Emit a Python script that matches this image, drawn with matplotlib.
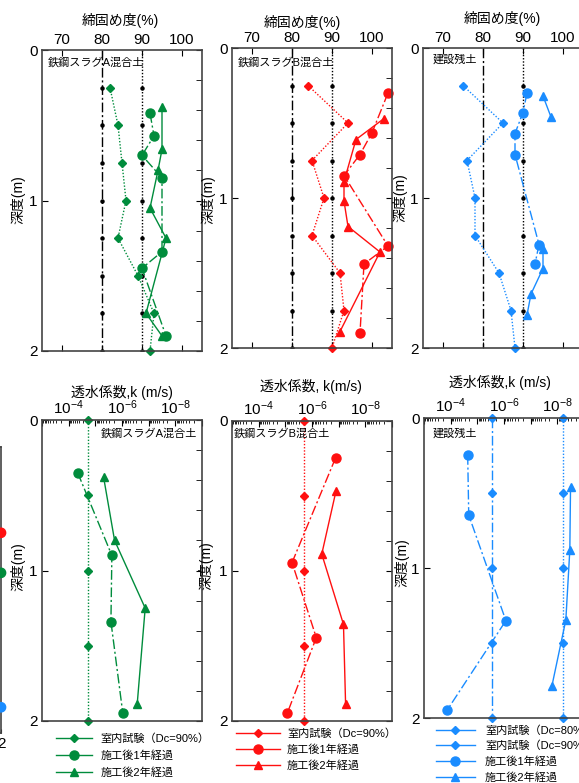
import numpy as np
import matplotlib
matplotlib.use('Agg')
import matplotlib.pyplot as plt
from matplotlib.lines import Line2D
from matplotlib.ticker import MultipleLocator, FixedLocator, LogLocator, FuncFormatter, NullFormatter

plt.rcParams['font.family'] = ['Liberation Sans', 'Noto Sans CJK JP', 'DejaVu Sans']
plt.rcParams['mathtext.fontset'] = 'custom'
plt.rcParams['mathtext.rm'] = 'Liberation Sans'
plt.rcParams['mathtext.it'] = 'Liberation Sans:italic'
plt.rcParams['axes.unicode_minus'] = False

W, H = 579, 783
GREEN = '#008c3c'
RED = '#ff1010'
BLUE = '#1a8cff'

# ---- 締固め度 (top row) ----
dc_ref = [80, 90]
ref_depth = [0.25, 0.5, 0.75, 1.0, 1.25, 1.5, 1.75, 2.0]

a_lab_dc = [82, 84, 85, 86, 84, 89, 93, 92]
a_y1_depth = [0.42, 0.57, 0.70, 0.85, 1.34, 1.45, 1.90]
a_y1_dc = [92, 93, 90, 95, 95, 90, 96]
a_y2_depth = [0.38, 0.66, 0.80, 1.05, 1.25, 1.75, 1.90]
a_y2_dc = [95, 95, 94, 92, 96, 91, 95]

b_lab_dc = [84, 94, 85, 88, 85, 92, 93, 90]
b_y1_depth = [0.30, 0.565, 0.71, 0.85, 1.32, 1.44, 1.90]
b_y1_dc = [104, 100, 97, 93, 104, 98, 97]
b_y2_depth = [0.47, 0.61, 0.89, 1.02, 1.19, 1.36, 1.89]
b_y2_dc = [103, 96, 93, 93, 94, 102, 92]

c_lab_dc = [75, 85, 76, 78, 78, 84, 87, 88]
c_y1_depth = [0.30, 0.43, 0.57, 0.71, 1.31, 1.44]
c_y1_dc = [91, 90, 88, 88, 94, 93]
c_y2_depth = [0.32, 0.46, np.nan, 1.34, 1.47, 1.64, 1.78]
c_y2_dc = [95, 97, np.nan, 95, 95, 92, 91]

# ---- 透水係数 (bottom row) ----
k_lab_depth = [0, 0.5, 1.0, 1.5, 2.0]

a_k_lab = [1.9e-5, 1.9e-5, 1.9e-5, 1.9e-5, 1.9e-5]
a_k1_depth = [0.35, 0.90, 1.34, 1.95]
a_k1 = [4.6e-5, 2.4e-6, 2.6e-6, 9.3e-7]
a_k2_depth = [0.38, 0.80, 1.25, 1.89]
a_k2 = [4.9e-6, 1.9e-6, 1.35e-7, 2.7e-7]

b_k_lab = [2.0e-6, 2.0e-6, 2.0e-6, 2.0e-6, 2.0e-6]
b_k1_depth = [0.245, 0.944, 1.444, 1.949]
b_k1 = [1.3e-7, 5.6e-6, 6.9e-7, 8.5e-6]
b_k2_depth = [0.467, 0.887, 1.356, 1.889]
b_k2 = [1.26e-7, 4.3e-7, 6.6e-8, 5.5e-8]

c_k_lab80 = [2.75e-6, 2.75e-6, 2.75e-6, 2.75e-6, 2.75e-6]
c_k_lab90 = [6e-9, 6e-9, 6e-9, 6e-9, 6e-9]
c_k1_depth = [0.247, 0.647, 1.351, 1.947]
c_k1 = [2.3e-5, 2.1e-5, 8.5e-7, 1.35e-4]
c_k2_depth = [0.462, 0.88, 1.347, 1.787]
c_k2 = [3.2e-9, 3.4e-9, 4.8e-9, 1.6e-8]

# cut-off neighbour panel at left edge
edge_x = [2, 2, 2]
edge_y = [0.60, 0.88, 1.82]
edge_colors = [RED, GREEN, BLUE]

DASHDOT = (0, (7, 2, 1.5, 2))
DOTTED = (0, (1, 1.3))
SPINE = '#444444'
TICKFS = 11

fig = plt.figure(figsize=(W / 100, H / 100), dpi=100)


def px_axes(l, t, r, b):
    return fig.add_axes([l / W, 1 - b / H, (r - l) / W, (b - t) / H])


def ftext(x, y, s, **kw):
    fig.text(x / W, 1 - y / H, s, **kw)


def style_depth(ax):
    ax.set_ylim(2, 0)
    ax.yaxis.set_major_locator(FixedLocator([0, 1, 2]))
    ax.yaxis.set_minor_locator(MultipleLocator(0.2))
    ax.tick_params(axis='y', which='major', direction='in', left=True, right=True,
                   length=4, labelsize=TICKFS, pad=3)
    ax.tick_params(axis='y', which='minor', direction='in', left=False, right=True, length=4)
    for s in ax.spines.values():
        s.set_color(SPINE)
        s.set_linewidth(1.2)


def dc_panel(ax, color, lab, d1, v1, d2, v2, dots80=True):
    ax.plot([dc_ref[0], dc_ref[0]], [0, 2], color='k', lw=1, ls=DASHDOT)
    ax.plot([dc_ref[1], dc_ref[1]], [0, 2], color='k', lw=1, ls=DOTTED)
    if dots80:
        ax.plot(np.full(len(ref_depth), dc_ref[0]), ref_depth, 'o', color='k', ms=2.2)
    ax.plot(np.full(len(ref_depth), dc_ref[1]), ref_depth, 'o', color='k', ms=2.2)
    ax.plot(lab, ref_depth, color=color, ls=DOTTED, lw=1, marker='D', ms=4.5, clip_on=False)
    ax.plot(v1, d1, color=color, ls=DASHDOT, lw=1, marker='o', ms=6.5, clip_on=False)
    ax.plot(v2, d2, color=color, ls='-', lw=1, marker='^', ms=6, clip_on=False)
    ax.set_xlim(65, 105)
    ax.xaxis.set_major_locator(FixedLocator([70, 80, 90, 100]))
    ax.tick_params(axis='x', direction='in', top=True, bottom=True, labeltop=True,
                   labelbottom=False, length=4, labelsize=TICKFS, pad=2)
    style_depth(ax)


def k_fmt(v, pos):
    e = int(round(np.log10(v)))
    if e in (-4, -6, -8):
        return r'$10^{%d}$' % e
    return ''


def k_panel(ax):
    ax.set_xscale('log')
    ax.set_xlim(1e-3, 1e-9)
    ax.xaxis.set_major_locator(LogLocator(base=10, numticks=12))
    ax.xaxis.set_minor_locator(LogLocator(base=10, subs=np.arange(2, 10), numticks=12))
    ax.xaxis.set_major_formatter(FuncFormatter(k_fmt))
    ax.xaxis.set_minor_formatter(NullFormatter())
    ax.tick_params(axis='x', which='both', direction='in', top=True, bottom=False,
                   labeltop=True, labelbottom=False, labelsize=TICKFS, pad=2)
    ax.tick_params(axis='x', which='major', length=4)
    ax.tick_params(axis='x', which='minor', length=2)
    style_depth(ax)


# ---------- top row ----------
ax1 = px_axes(42, 50, 202, 351)
dc_panel(ax1, GREEN, a_lab_dc, a_y1_depth, a_y1_dc, a_y2_depth, a_y2_dc)
ax2 = px_axes(232, 48, 392, 348)
dc_panel(ax2, RED, b_lab_dc, b_y1_depth, b_y1_dc, b_y2_depth, b_y2_dc)
ax3 = px_axes(423, 48, 583, 348)
dc_panel(ax3, BLUE, c_lab_dc, c_y1_depth, c_y1_dc, c_y2_depth, c_y2_dc, dots80=False)
ax3.tick_params(axis='y', which='both', right=False)

# ---------- bottom row ----------
ax4 = px_axes(42, 420, 202, 721)
k_panel(ax4)
ax4.plot(a_k_lab, k_lab_depth, color=GREEN, ls=DOTTED, lw=1, marker='D', ms=4.5, clip_on=False)
ax4.plot(a_k1, a_k1_depth, color=GREEN, ls=DASHDOT, lw=1, marker='o', ms=6.5, clip_on=False)
ax4.plot(a_k2, a_k2_depth, color=GREEN, ls='-', lw=1, marker='^', ms=6, clip_on=False)

ax5 = px_axes(232, 421, 392, 721)
k_panel(ax5)
ax5.plot(b_k_lab, k_lab_depth, color=RED, ls=DOTTED, lw=1, marker='D', ms=4.5, clip_on=False)
ax5.plot(b_k1, b_k1_depth, color=RED, ls=DASHDOT, lw=1, marker='o', ms=6.5, clip_on=False)
ax5.plot(b_k2, b_k2_depth, color=RED, ls='-', lw=1, marker='^', ms=6, clip_on=False)

ax6 = px_axes(424, 418, 584, 718)
k_panel(ax6)
ax6.tick_params(axis='y', which='both', right=False)
ax6.plot(c_k_lab80, k_lab_depth, color=BLUE, ls=DASHDOT, lw=1, marker='D', ms=4.5, clip_on=False)
ax6.plot(c_k_lab90, k_lab_depth, color=BLUE, ls=DOTTED, lw=1, marker='D', ms=4.5, clip_on=False)
ax6.plot(c_k1, c_k1_depth, color=BLUE, ls=DASHDOT, lw=1, marker='o', ms=6.5, clip_on=False)
ax6.plot(c_k2, c_k2_depth, color=BLUE, ls='-', lw=1, marker='^', ms=6, clip_on=False)

# neighbour panel sticking in from the left
ax0 = px_axes(-100, 447, 1, 733)
ax0.set_xlim(0, 2)
ax0.set_ylim(2, 0)
ax0.set_yticks([])
ax0.set_xticks([2])
ax0.tick_params(axis='x', direction='in', length=3, labelsize=TICKFS, pad=3)
for s in ax0.spines.values():
    s.set_color(SPINE)
    s.set_linewidth(1.2)
ax0.scatter(edge_x, edge_y, c=edge_colors, s=45, clip_on=False, zorder=5)

# ---------- titles / labels ----------
for x, y in [(120, 21), (302, 22), (502, 19)]:
    ftext(x, y, '締固め度(%)', ha='center', va='center', fontsize=10)
ftext(122, 392, '透水係数,k (m/s)', ha='center', va='center', fontsize=10)
ftext(311, 386, '透水係数, k(m/s)', ha='center', va='center', fontsize=10)
ftext(500, 383, '透水係数,k (m/s)', ha='center', va='center', fontsize=10)

for x, y in [(18, 200), (208, 200), (400, 198), (18, 567), (206, 566), (402, 563)]:
    ftext(x, y, '深度(m)', ha='center', va='center', rotation=90, fontsize=10)

ftext(48, 62, '鉄鋼スラグA混合土', ha='left', va='center', fontsize=8)
ftext(238, 62, '鉄鋼スラグB混合土', ha='left', va='center', fontsize=8)
ftext(433, 60, '建設残土', ha='left', va='center', fontsize=8)
ftext(197, 433, '鉄鋼スラグA混合土', ha='right', va='center', fontsize=8)
ftext(234, 433, '鉄鋼スラグB混合土', ha='left', va='center', fontsize=8)
ftext(433, 433, '建設残土', ha='left', va='center', fontsize=8)


# ---------- legends ----------
def handles(color, labs):
    hs = []
    for m, ms in labs:
        hs.append(Line2D([], [], color=color, lw=1, marker=m, ms=ms))
    return hs


lab_names = ['室内試験（Dc=90%）', '施工後1年経過', '施工後2年経過']
mk = [('D', 4.5), ('o', 6.5), ('^', 6)]

fig.legend(handles(GREEN, mk), lab_names, loc='upper left', frameon=False,
           bbox_to_anchor=(56 / W, 1 - 733 / H), fontsize=8, handlelength=3.2,
           handletextpad=0.8, labelspacing=0.6, borderpad=0, borderaxespad=0)
fig.legend(handles(RED, mk), lab_names, loc='upper left', frameon=False,
           bbox_to_anchor=(236 / W, 1 - 728 / H), fontsize=8, handlelength=4,
           handletextpad=0.6, labelspacing=0.5, borderpad=0, borderaxespad=0)
fig.legend(handles(BLUE, [('D', 4.5)] + mk),
           ['室内試験（Dc=80%）'] + lab_names, loc='upper left', frameon=False,
           bbox_to_anchor=(436 / W, 1 - 725 / H), fontsize=8, handlelength=3.5,
           handletextpad=0.9, labelspacing=0.45, borderpad=0, borderaxespad=0)

fig.savefig('out.png', dpi=100)
